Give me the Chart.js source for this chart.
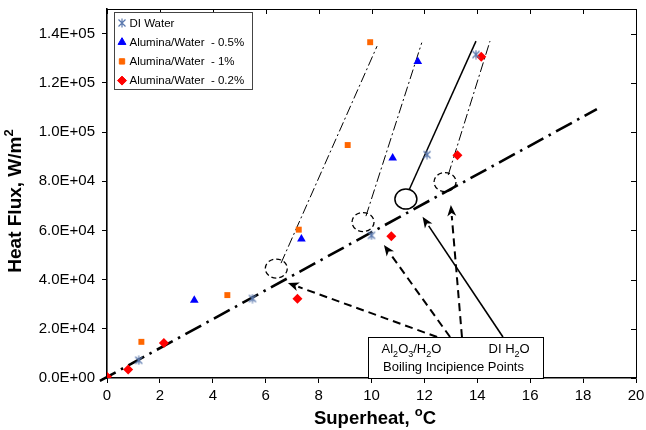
<!DOCTYPE html>
<html><head><meta charset="utf-8">
<script src="https://cdn.jsdelivr.net/npm/chart.js@4/dist/chart.umd.min.js"></script>
<style>html,body{margin:0;padding:0;background:#fff}#wrap{width:646px;height:430px}</style>
</head><body><div id="wrap"><canvas id="c" width="646" height="430"></canvas></div>
<script>
// ---- data ----
const xTickValues = [0,2,4,6,8,10,12,14,16,18,20];
const yTickValues = [0,20000,40000,60000,80000,100000,120000,140000];
const seriesNames = ['DI Water','Alumina/Water  - 0.5%','Alumina/Water  - 1%','Alumina/Water  - 0.2%'];
const diX = [1.2, 5.5, 10.0, 12.1, 13.95];
const diY = [7200, 32300, 58000, 90800, 131500];
const a05X = [3.3, 7.35, 10.8, 11.75];
const a05Y = [31600, 56500, 89400, 128700];
const a1X = [1.3, 4.55, 7.25, 9.1, 9.95];
const a1Y = [14700, 33700, 60300, 94700, 136500];
const a02X = [0, 0.8, 2.15, 7.2, 10.75, 13.25, 14.15];
const a02Y = [500, 3500, 14200, 32200, 57600, 90500, 130600];
// trend lines
const mainLineX = [-0.27, 18.52];
const mainLineY = [-1200, 109300];
const line1X = [6.58, 10.21];
const line1Y = [46700, 134900];
const line05X = [9.79, 11.9];
const line05Y = [65800, 136300];
const lineDIX = [11.42, 13.95];
const lineDIY = [76400, 136950];
const line02X = [12.9, 14.48];
const line02Y = [82500, 136950];
// boiling incipience annotations (data coords)
const dashedCircleX = [6.4, 9.68, 12.78];
const dashedCircleY = [44500, 63400, 79650];
const diCircleX = [11.3];
const diCircleY = [72750];
const arrowFromX = [12.48, 12.97, 13.42, 14.97];
const arrowFromY = [16660, 16660, 16660, 16660];
const arrowToX = [6.84, 10.47, 13.0, 11.93];
const arrowToY = [38600, 54050, 70300, 65550];
const noteBoxX = [9.87, 16.48];
const noteBoxY = [0, 16500];

const pts = (xs, ys) => xs.map((x, i) => ({x, y: ys[i]}));
const FONT = "'Liberation Sans', Arial, sans-serif";

function makeAsterisk(color){
  const c = document.createElement('canvas'); c.width = 10; c.height = 10;
  const g = c.getContext('2d'); g.strokeStyle = color; g.lineWidth = 1.2;
  g.beginPath();
  g.moveTo(1.5,1.5); g.lineTo(8.5,8.5);
  g.moveTo(8.5,1.5); g.lineTo(1.5,8.5);
  g.moveTo(5,0.5); g.lineTo(5,9.5);
  g.stroke();
  return c;
}
const DI_COLOR = '#5a78ae';
const asterisk = makeAsterisk(DI_COLOR);

function sci(v){
  if (v === 0) return '0.0E+00';
  const e = Math.floor(Math.log10(v) + 1e-9);
  const m = v / Math.pow(10, e);
  return m.toFixed(1) + 'E+' + String(e).padStart(2, '0');
}

function drawRich(ctx, x, y, parts, size, weight, align, ratio){
  // parts: [text, mode] mode 0 normal, 1 sub, 2 sup
  const small = Math.round(size * (ratio || 0.7));
  let total = 0;
  parts.forEach(p => { ctx.font = weight + ' ' + (p[1] ? small : size) + 'px ' + FONT; total += ctx.measureText(p[0]).width; });
  let cx = align === 'center' ? x - total / 2 : x;
  ctx.textAlign = 'left'; ctx.textBaseline = 'alphabetic';
  parts.forEach(p => {
    ctx.font = weight + ' ' + (p[1] ? small : size) + 'px ' + FONT;
    const dy = p[1] === 1 ? size * 0.28 : (p[1] === 2 ? -size * 0.42 : 0);
    ctx.fillText(p[0], cx, y + dy);
    cx += ctx.measureText(p[0]).width;
  });
}

function arrow(ctx, x1, y1, x2, y2, dashed){
  const ang = Math.atan2(y2 - y1, x2 - x1);
  const hl = 11, hw = 4.5;
  const bx = x2 - hl * Math.cos(ang), by = y2 - hl * Math.sin(ang);
  ctx.save();
  ctx.strokeStyle = '#000'; ctx.fillStyle = '#000';
  ctx.lineWidth = dashed ? 2 : 1.6;
  ctx.setLineDash(dashed ? [8, 5] : []);
  ctx.beginPath(); ctx.moveTo(x1, y1); ctx.lineTo(bx, by); ctx.stroke();
  ctx.setLineDash([]);
  ctx.beginPath();
  ctx.moveTo(x2, y2);
  ctx.lineTo(bx + hw * Math.sin(ang), by - hw * Math.cos(ang));
  ctx.lineTo(x2 - (hl - 3) * Math.cos(ang), y2 - (hl - 3) * Math.sin(ang));
  ctx.lineTo(bx - hw * Math.sin(ang), by + hw * Math.cos(ang));
  ctx.closePath(); ctx.fill();
  ctx.restore();
}

const overlay = {
  id: 'overlay',
  afterDatasetsDraw(chart){
    const ctx = chart.ctx, xs = chart.scales.x, ys = chart.scales.y, a = chart.chartArea;
    const px = v => xs.getPixelForValue(v), py = v => ys.getPixelForValue(v);
    ctx.save();
    // frame top/right with inward ticks
    ctx.strokeStyle = '#000'; ctx.lineWidth = 1;
    ctx.beginPath();
    ctx.moveTo(a.left, a.top + 0.5); ctx.lineTo(a.right + 0.5, a.top + 0.5); ctx.lineTo(a.right + 0.5, a.bottom);
    xTickValues.forEach(v => { const x = Math.round(px(v)) + 0.5; ctx.moveTo(x, a.top); ctx.lineTo(x, a.top + 5); });
    yTickValues.forEach(v => { const y = Math.round(py(v)) + 0.5; ctx.moveTo(a.right, y); ctx.lineTo(a.right - 5, y); });
    ctx.stroke();
    // dashed circles
    ctx.lineWidth = 1.3; ctx.setLineDash([5, 3]);
    dashedCircleX.forEach((v, i) => {
      ctx.beginPath(); ctx.ellipse(px(v), py(dashedCircleY[i]), 11, 9.5, 0, 0, Math.PI * 2); ctx.stroke();
    });
    ctx.setLineDash([]); ctx.lineWidth = 1.5;
    diCircleX.forEach((v, i) => {
      ctx.beginPath(); ctx.ellipse(px(v), py(diCircleY[i]), 11, 10, 0, 0, Math.PI * 2); ctx.stroke();
    });
    // arrows
    arrowFromX.forEach((v, i) => arrow(ctx, px(v), py(arrowFromY[i]), px(arrowToX[i]), py(arrowToY[i]), i < 3));
    // note box
    const bx1 = px(noteBoxX[0]), bx2 = px(noteBoxX[1]), by1 = py(noteBoxY[1]), by2 = py(noteBoxY[0]);
    ctx.fillStyle = '#fff'; ctx.fillRect(bx1, by1, bx2 - bx1, by2 - by1);
    ctx.strokeStyle = '#000'; ctx.lineWidth = 1;
    ctx.strokeRect(Math.round(bx1) + 0.5, Math.round(by1) + 0.5, Math.round(bx2 - bx1), Math.round(by2 - by1));
    ctx.fillStyle = '#000';
    drawRich(ctx, bx1 + 13.5, by1 + 16, [['Al',0],['2',1],['O',0],['3',1],['/H',0],['2',1],['O',0]], 13, 'normal', 'left', 0.72);
    drawRich(ctx, bx1 + 120.5, by1 + 16, [['DI H',0],['2',1],['O',0]], 13, 'normal', 'left', 0.72);
    drawRich(ctx, bx1 + 15, by1 + 33.5, [['Boiling Incipience Points',0]], 13, 'normal', 'left');
    // legend
    const lx = 114.5, ly = 12.5, lw = 138, lh = 77;
    ctx.fillStyle = '#fff'; ctx.fillRect(lx, ly, lw, lh);
    ctx.strokeStyle = '#444'; ctx.lineWidth = 1; ctx.strokeRect(lx, ly, lw, lh);
    seriesNames.forEach((name, i) => {
      const ds = chart.data.datasets[i];
      const y = 23 + i * 19.2;
      ctx.fillStyle = ds.backgroundColor; ctx.strokeStyle = ds.borderColor;
      Chart.helpers.drawPoint(ctx, {pointStyle: ds.pointStyle, radius: ds.pointRadius * 0.9, borderWidth: 1, rotation: 0}, 122, y);
      ctx.fillStyle = '#000'; ctx.font = '11.5px ' + FONT; ctx.textAlign = 'left'; ctx.textBaseline = 'middle';
      ctx.fillText(name, 129.5, y + 0.5);
    });
    // axis titles
    ctx.fillStyle = '#000';
    drawRich(ctx, 375, 424, [['Superheat, ',0],['o',2],['C',0]], 18.5, 'bold', 'center');
    ctx.save(); ctx.translate(21, 201); ctx.rotate(-Math.PI / 2);
    drawRich(ctx, 0, 0, [['Heat Flux, W/m',0],['2',2]], 19, 'bold', 'center');
    ctx.restore();
    ctx.restore();
  }
};

const lineDs = (xs, ys, width, dash, clip) => ({
  data: pts(xs, ys), showLine: true, pointRadius: 0, borderColor: '#000', backgroundColor: '#000',
  borderWidth: width, borderDash: dash, fill: false, clip: clip === false ? false : undefined
});

new Chart(document.getElementById('c'), {
  type: 'scatter',
  data: {
    datasets: [
      {label: seriesNames[0], data: pts(diX, diY), pointStyle: asterisk, pointRadius: 4.5, backgroundColor: DI_COLOR, borderColor: DI_COLOR},
      {label: seriesNames[1], data: pts(a05X, a05Y), pointStyle: 'triangle', pointRadius: 5, backgroundColor: '#0000ff', borderColor: '#0000ff', borderWidth: 0},
      {label: seriesNames[2], data: pts(a1X, a1Y), pointStyle: 'rect', pointRadius: 4.2, backgroundColor: '#ff6600', borderColor: '#ff6600', borderWidth: 0},
      {label: seriesNames[3], data: pts(a02X, a02Y), pointStyle: 'rectRot', pointRadius: 5, backgroundColor: '#ff0000', borderColor: '#ff0000', borderWidth: 0},
      lineDs(mainLineX, mainLineY, 2.6, [18, 6, 2.5, 6], false),
      lineDs(line1X, line1Y, 1, [10, 3, 2, 3]),
      lineDs(line05X, line05Y, 1, [10, 3, 2, 3]),
      lineDs(lineDIX, lineDIY, 1.5, []),
      lineDs(line02X, line02Y, 1, [10, 3, 2, 3])
    ]
  },
  options: {
    responsive: false, animation: false,
    layout: {padding: {left: 0, right: 10, top: 9, bottom: 0}},
    plugins: {legend: {display: false}, tooltip: {enabled: false}},
    scales: {
      x: {
        type: 'linear', min: 0, max: 20,
        afterFit(s){ s.height = 52; s.paddingLeft = 0; s.paddingRight = 0; },
        afterBuildTicks(s){ s.ticks = xTickValues.map(v => ({value: v})); },
        ticks: {color: '#000', font: {family: FONT, size: 15}, padding: 4, maxRotation: 0, callback: v => String(v)},
        grid: {display: true, drawOnChartArea: false, drawTicks: true, tickLength: 5, color: '#000', tickWidth: 1},
        border: {display: true, color: '#000', width: 1.6}
      },
      y: {
        type: 'linear', min: 0, max: 150000,
        afterFit(s){ s.width = 107; s.paddingTop = 0; s.paddingBottom = 0; },
        afterBuildTicks(s){ s.ticks = yTickValues.map(v => ({value: v})); },
        ticks: {color: '#000', font: {family: FONT, size: 15}, padding: 7, callback: v => sci(v)},
        grid: {display: true, drawOnChartArea: false, drawTicks: true, tickLength: 5, color: '#000', tickWidth: 1},
        border: {display: true, color: '#000', width: 1.6}
      }
    }
  },
  plugins: [overlay]
});
</script>
</body></html>
